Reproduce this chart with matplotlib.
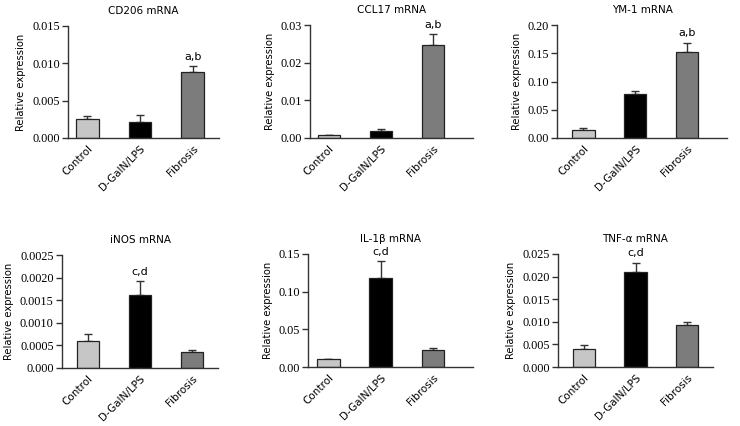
import numpy as np
import matplotlib
matplotlib.use('Agg')
import matplotlib.pyplot as plt

groups = ["Control", "D-GalN/LPS", "Fibrosis"]
titles = ["CD206 mRNA", "CCL17 mRNA", "YM-1 mRNA",
          "iNOS mRNA", "IL-1\u03b2 mRNA", "TNF-\u03b1 mRNA"]

cd206 = [0.0026, 0.0021, 0.0088]
cd206_err = [0.0003, 0.0010, 0.0008]
ccl17 = [0.0007, 0.0019, 0.0246]
ccl17_err = [0.0001, 0.0006, 0.0030]
ym1 = [0.015, 0.077, 0.153]
ym1_err = [0.003, 0.006, 0.016]
inos = [0.00060, 0.00162, 0.00036]
inos_err = [0.00015, 0.00030, 0.00004]
il1b = [0.010, 0.118, 0.022]
il1b_err = [0.001, 0.023, 0.003]
tnfa = [0.0040, 0.0211, 0.0093]
tnfa_err = [0.0009, 0.0020, 0.0007]

marks = [(2, "a,b"), (2, "a,b"), (2, "a,b"), (1, "c,d"), (1, "c,d"), (1, "c,d")]

yticks = [["0.000", "0.005", "0.010", "0.015"],
          ["0.00", "0.01", "0.02", "0.03"],
          ["0.00", "0.05", "0.10", "0.15", "0.20"],
          ["0.000", "0.0005", "0.0010", "0.0015", "0.0020", "0.0025"],
          ["0.00", "0.05", "0.10", "0.15"],
          ["0.000", "0.005", "0.010", "0.015", "0.020", "0.025"]]

values = [cd206, ccl17, ym1, inos, il1b, tnfa]
errors = [cd206_err, ccl17_err, ym1_err, inos_err, il1b_err, tnfa_err]

colors = ["#c6c6c6", "#000000", "#7c7c7c"]

W, H = 740, 426
# axes boxes in pixels: left, right, top, bottom ; and x-limits
boxes = [(68, 219, 26, 138, -0.37, 2.5),
         (310, 473, 25, 138, -0.36, 2.77),
         (557, 727, 25, 138, -0.51, 2.77),
         (62, 218, 255, 368, -0.5, 2.5),
         (308, 473, 254, 367, -0.39, 2.77),
         (558, 713, 254, 367, -0.5, 2.5)]

fig = plt.figure(figsize=(W / 100, H / 100), dpi=100)
sans = "DejaVu Sans"
serif = "Liberation Serif"

for i in range(6):
    l, r, t, b, x0, x1 = boxes[i]
    ax = fig.add_axes([l / W, 1 - b / H, (r - l) / W, (b - t) / H])
    x = np.arange(3)
    err = np.array([np.zeros(3), errors[i]])
    ax.bar(x, values[i], width=0.43, color=colors, edgecolor="#222222",
           linewidth=0.9, zorder=2)
    ax.errorbar(x, values[i], yerr=err, fmt="none", ecolor="#333333",
                elinewidth=1, capsize=3, capthick=1, zorder=1)
    ticks = [float(s) for s in yticks[i]]
    ax.set_ylim(0, ticks[-1])
    ax.set_xlim(x0, x1)
    ax.set_yticks(ticks)
    ax.set_yticklabels(yticks[i], fontfamily=serif, fontsize=8.8)
    ax.set_xticks(x)
    ax.set_xticklabels(groups, rotation=45, ha="right", rotation_mode="anchor",
                       fontfamily=sans, fontsize=7.5)
    ax.tick_params(axis="x", length=0, pad=4)
    ax.tick_params(axis="y", length=4, width=1, color="#333333", pad=2)
    for s in ["top", "right"]:
        ax.spines[s].set_visible(False)
    for s in ["left", "bottom"]:
        ax.spines[s].set_linewidth(1)
        ax.spines[s].set_color("#333333")
    ax.set_ylabel("Relative expression", fontfamily=sans, fontsize=7.2,
                  labelpad=4)
    ax.set_title(titles[i], fontfamily=sans, fontsize=7.5, pad=9)
    k, txt = marks[i]
    ax.annotate(txt, (x[k], values[i][k] + errors[i][k]), xytext=(0, 3),
                textcoords="offset points", ha="center", va="bottom",
                fontfamily=sans, fontsize=8)

fig.savefig("out.png", dpi=100)
